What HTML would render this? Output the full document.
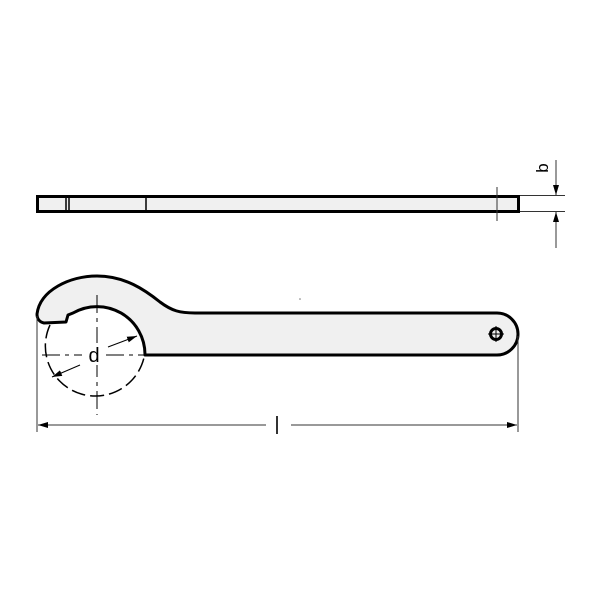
<!DOCTYPE html>
<html><head><style>body{margin:0;background:#fff}</style></head><body>
<svg width="600" height="600" viewBox="0 0 600 600" xmlns="http://www.w3.org/2000/svg">
<defs>
<marker id="a" viewBox="0 0 10 6" refX="10" refY="3" markerWidth="10" markerHeight="6" orient="auto" markerUnits="userSpaceOnUse"><path d="M0,0 L10,3 L0,6z" fill="#000"/></marker>
</defs>
<!-- side view -->
<rect x="37.5" y="196.5" width="481" height="15" fill="#f0f0f0" stroke="#000" stroke-width="3"/>
<line x1="66" y1="197" x2="66" y2="211" stroke="#000" stroke-width="1.5"/>
<line x1="69" y1="197" x2="69" y2="211" stroke="#000" stroke-width="1.5"/>
<line x1="146" y1="197" x2="146" y2="211" stroke="#000" stroke-width="1.5"/>
<line x1="497" y1="187" x2="497" y2="221" stroke="#333" stroke-width="1"/>
<line x1="520" y1="195.5" x2="565" y2="195.5" stroke="#333" stroke-width="1"/>
<line x1="520" y1="211.5" x2="565" y2="211.5" stroke="#333" stroke-width="1"/>
<line x1="556" y1="160" x2="556" y2="195" stroke="#333" stroke-width="1" marker-end="url(#a)"/>
<line x1="556" y1="248" x2="556" y2="212" stroke="#333" stroke-width="1" marker-end="url(#a)"/>
<text x="0" y="0" transform="translate(548,168) rotate(-90)" font-family="Liberation Sans, sans-serif" font-size="17" text-anchor="middle">b</text>
<!-- wrench -->
<path d="M37,314 C40,290 70,276 97,276 C125,276 145,290 160,302 C172,311 180,313 195,313 L497,313 A21,21 0 0 1 497,355 L145,355 A48,48 0 0 0 73,313 L68,315 L66,322 L44,323 C39,322 37,318 37,314Z" fill="#f0f0f0" stroke="#000" stroke-width="3" stroke-linejoin="round"/>
<circle cx="496" cy="334" r="5.5" fill="none" stroke="#000" stroke-width="3"/>
<line x1="488" y1="334" x2="504" y2="334" stroke="#000" stroke-width="1"/>
<line x1="496" y1="326" x2="496" y2="342" stroke="#000" stroke-width="1"/>
<!-- dashed circle -->
<path d="M50,325 A50,50 0 1 0 145,352" fill="none" stroke="#000" stroke-width="1.5" stroke-dasharray="14,5"/>
<line x1="42" y1="355" x2="150" y2="355" stroke="#000" stroke-width="1" stroke-dasharray="18,5,4,5"/>
<line x1="97" y1="295" x2="97" y2="415" stroke="#000" stroke-width="1" stroke-dasharray="18,5,4,5"/>
<rect x="82" y="343" width="22" height="22" fill="#fff"/>
<text x="94" y="362" font-family="Liberation Sans, sans-serif" font-size="20" text-anchor="middle">d</text>
<line x1="80" y1="365" x2="52" y2="377" stroke="#000" stroke-width="1" marker-end="url(#a)"/>
<line x1="108" y1="347" x2="137" y2="336" stroke="#000" stroke-width="1" marker-end="url(#a)"/>
<!-- l dimension -->
<line x1="37" y1="316" x2="37" y2="432" stroke="#333" stroke-width="1"/>
<line x1="518" y1="336" x2="518" y2="432" stroke="#333" stroke-width="1"/>
<line x1="266" y1="425" x2="38" y2="425" stroke="#333" stroke-width="1" marker-end="url(#a)"/>
<line x1="291" y1="425" x2="517" y2="425" stroke="#333" stroke-width="1" marker-end="url(#a)"/>
<line x1="277" y1="416" x2="277" y2="434" stroke="#333" stroke-width="2"/>
<circle cx="300" cy="299" r="0.8" fill="#777"/>
</svg>
</body></html>
